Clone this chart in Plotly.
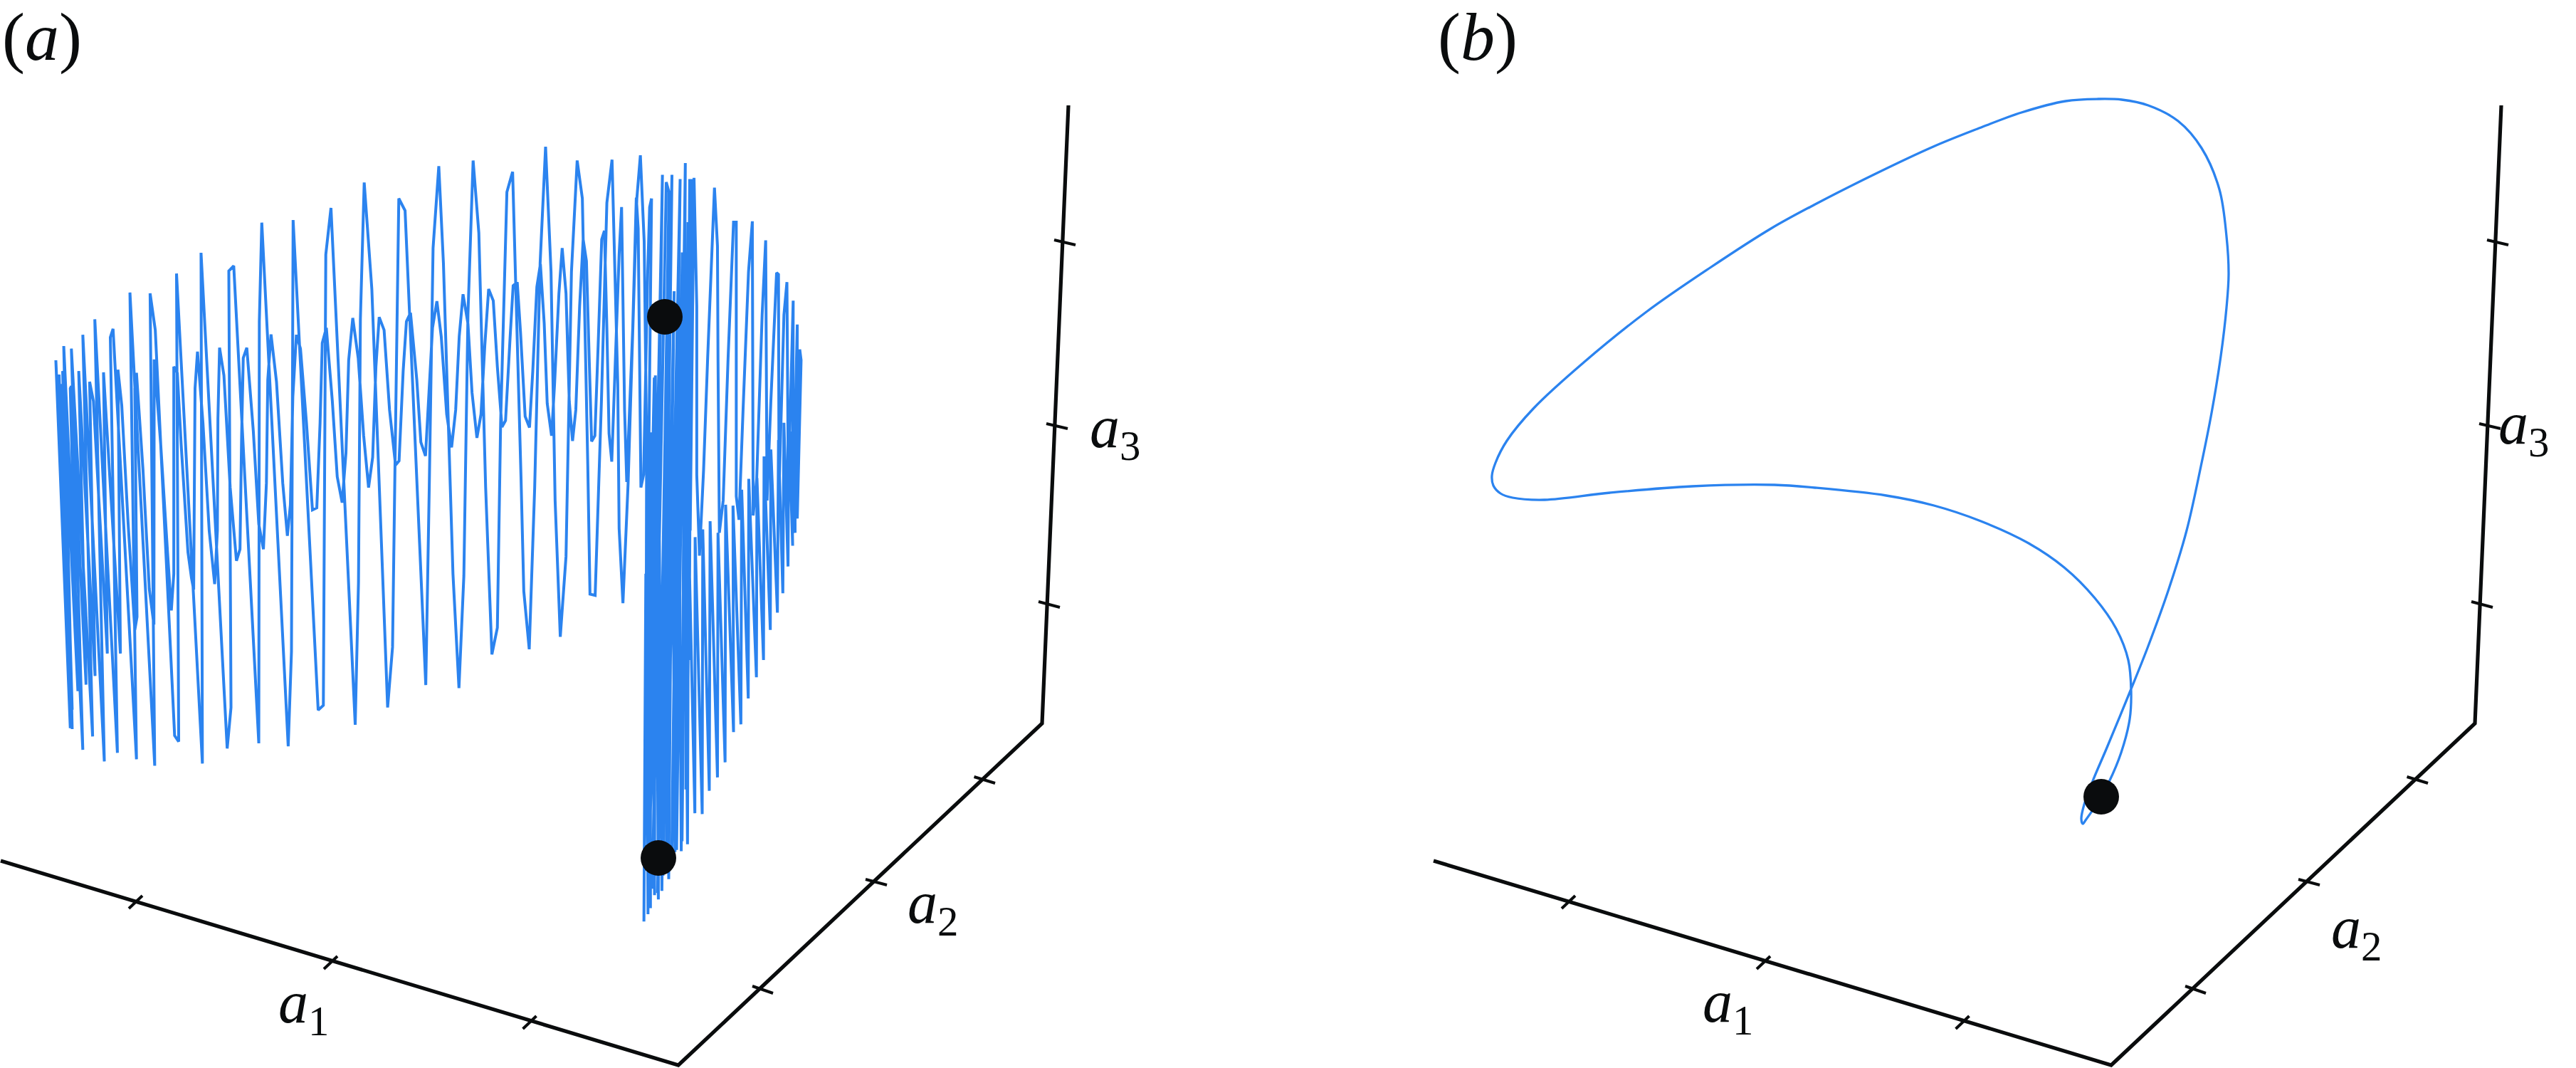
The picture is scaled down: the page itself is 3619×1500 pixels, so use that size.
import plotly.graph_objects as go

# ---------- panel (a) trajectory ----------
# small-amplitude chain, left part (u = 2.613 per px, v = 1.6505 per px from y=200)
small_l_u = [217,258,224,265,230,286,258,262,316,289,349,329,343,394,380,442,433,447,470,495,503,495,501,525,548,565,566,590,615,629,638,638,651,665,690,703,711,716,725,745,768,788,798,800,806,822,845,868,881,887,893,906,930,950,967,978,983,995,1015,1038,1055,1066,1075,1088,1103,1125,1147,1163,1175,1183,1198,1220,1238,1256,1270,1280,1295,1315,1335,1353,1368,1380,1392,1410,1430,1452,1465,1480,1492,1507,1530,1545,1562]
small_l_v = [538,1290,560,1315,530,1272,570,565,1257,530,1237,555,600,1185,533,1185,527,610,880,1130,1100,570,534,760,1035,1118,503,700,950,1085,1000,520,535,700,950,1010,1037,570,485,650,900,1024,900,640,476,540,800,970,943,680,500,476,670,885,943,790,550,445,555,790,912,840,590,446,478,650,852,847,650,465,430,600,775,835,720,505,407,500,680,800,730,520,405,435,620,748,738,530,415,395,550,695,727]
# small-amplitude chain, middle part (u measured from x=600)
small_m_u = [20,36,52,72,90,105,118,132,150,165,183,198,212,226,243,258,275,288,305,316,331,343,360,376,388,403,416,430,441,457,468,484,496,510,522,534,546,560,573,585,596,604,616,628,641,651,660,668,678,705,714,725,733,755,768,775,785,795,810,817,824]
small_m_v = [430,368,450,630,707,620,450,352,420,580,685,630,470,340,367,520,660,645,450,332,324,440,635,661,530,335,282,420,605,680,560,350,245,350,600,692,620,380,225,275,520,693,680,470,225,205,430,675,740,260,150,620,787,430,128,200,800,770,300,150,130]
# left-end strokes joining the two chains
turn_u = [258,205]
turn_v = [1358,505]
# large-amplitude chain, left part
large_l_u = [265,234,304,262,340,304,383,348,431,405,415,501,477,568,551,570,641,656,648,743,738,834,848,840,858,950,952,961,1058,1070,1076,1168,1187,1196,1215,1304,1316,1323,1337,1365,1423,1441,1450,1464,1487,1563]
large_l_v = [1360,472,1408,478,1377,446,1435,410,1415,452,432,1430,348,1445,350,435,1375,1389,304,1440,256,1405,1310,298,286,1393,415,186,1400,1180,180,1316,1305,260,152,1350,1020,410,93,340,1310,1170,750,130,158,1258]
# large-amplitude chain, middle part
large_m_u = [8,22,43,60,95,117,135,150,169,190,215,238,258,270,293,314,345,355,375,395,415,435,455,470,489,510,530,551,570,590,598,617,640,660,679,700,705,719,738,770,783,797]
large_m_v = [800,245,55,280,1000,1265,1005,400,42,210,800,1187,1125,650,115,68,780,1040,1175,800,280,10,300,830,1146,960,300,42,130,750,1047,1050,600,140,40,560,895,1068,790,130,30,230]
# dense band, first pass
band1_u = [806,803,834,815,864,828,878,888,846,899,866,907,878,929,898,937,916,948,936,958,950,964,962,972,966,980]
band1_v = [700,1500,545,1720,75,1730,92,115,1740,75,1700,345,1680,85,1660,255,1640,48,1620,185,1500,85,1200,85,900,82]
# right lobe, outward
out_u = [990,990,1000,1015,1030,1055,1066,1068,1073,1087,1105,1125,1135,1135,1145,1160,1180,1194,1197,1210,1230,1243,1248,1262,1283,1290,1292,1310,1321,1325,1322,1344,1342,1359,1358,1368,1373]
out_v = [380,770,958,760,500,105,240,500,905,830,500,185,185,820,875,620,300,183,865,780,400,227,830,600,302,306,812,400,324,700,900,367,906,422,872,480,505]
# right lobe, returning
back_u = [1359,1350,1351,1335,1342,1328,1325,1310,1306,1290,1286,1262,1260,1237,1235,1211,1209,1181,1179,1155,1152,1123,1125,1096,1094,1068,1066,1039,1036,1012,1010,984,983]
back_v = [872,690,905,670,935,650,983,650,1045,690,1090,712,1130,728,1200,778,1240,780,1289,805,1349,842,1367,840,1437,905,1472,878,1503,897,1557,915,1555]
# dense band, second pass
band2_u = [960,956,945,933,925,910,900,887,880,862,850,849,838,835,820,820,808,811,803,796,797]
band2_v = [900,1627,800,1643,700,1645,680,1708,680,1735,680,1755,540,1745,672,1775,668,1789,1000,1806,1700]

dots_a_x = [934, 925]
dots_a_y = [445, 1205]

# ---------- panel (b) trajectory ----------
traj_b_x = [2926,2924,2928,2940,2960,2993,3017,3047,3072,3092,3107,3120,3128,3131,3128,3118,3093,3060,3018,2981,2948,2902,2840,2778,2716,2633,2550,2488,2401,2313,2225,2155,2117,2101,2096,2098,2108,2125,2170,2262,2377,2493,2550,2650,2717,2783,2850,2900,2943,2973,2990,2994,2992,2980,2963,2945,2930,2926]
traj_b_y = [1157,1150,1130,1097,1050,970,910,827,745,655,580,500,432,385,332,266,208,170,148,140,139,142,158,181,206,245,287,321,377,438,509,573,619,650,668,682,693,699,702,692,683,681,685,696,710,732,763,797,840,883,927,970,1010,1057,1098,1130,1152,1157]
dots_b_x = [2952]
dots_b_y = [1119]

# ---------- axes frame ----------
frame_a_x = [1, 953, 1464, 1501]
frame_a_y = [1209, 1496, 1016, 148]
frame_b_x = [2014, 2966, 3477, 3514]
frame_b_y = [1209, 1496, 1016, 148]
ticks_a_x = [200,181,None,474,455,None,753.5,734.6,None,1057,1086,None,1216,1246,None,1368.5,1398,None,1459,1489,None,1470,1500,None,1481,1511]
ticks_a_y = [1258,1276,None,1343,1361,None,1427,1445,None,1385,1395,None,1235,1243,None,1091,1100,None,845,853,None,595,602,None,337,344]
ticks_b_x = [2213,2194,None,2487,2468,None,2766.5,2747.6,None,3070,3099,None,3229,3259,None,3381.5,3411,None,3472,3502,None,3483,3513,None,3494,3524]
ticks_b_y = ticks_a_y

label_texts = ["(<i>a</i>)", "(<i>b</i>)",
               "<i>a</i><sub>1</sub>", "<i>a</i><sub>2</sub>", "<i>a</i><sub>3</sub>",
               "<i>a</i><sub>1</sub>", "<i>a</i><sub>2</sub>", "<i>a</i><sub>3</sub>"]
label_x = [3, 2020, 391, 1275, 1531, 2392, 3275, 3510]
label_y = [105, 105, 1467, 1327, 659, 1466, 1362, 654]
label_size = [96, 96, 84, 84, 84, 84, 84, 84]

BLUE = "#2b83ef"
INK = "#0a0c0d"

def from_left(u, v):
    return [p / 2.613 for p in u], [200 + q / 1.6505 for q in v]

def from_mid(u, v):
    return [600 + p / 2.613 for p in u], [200 + q / 1.6505 for q in v]

sl = from_left(small_l_u, small_l_v)
sm = from_mid(small_m_u, small_m_v)
small_x = sl[0] + sm[0]
small_y = sl[1] + sm[1]
tu = from_left(turn_u, turn_v)
ll = from_left(large_l_u, large_l_v)
lm = from_mid(large_m_u + band1_u + out_u + back_u + band2_u,
              large_m_v + band1_v + out_v + back_v + band2_v)

traj_a_x = small_x[::-1] + tu[0] + ll[0] + lm[0] + [small_x[-1]]
traj_a_y = small_y[::-1] + tu[1] + ll[1] + lm[1] + [small_y[-1]]

fig = go.Figure()
for fx, fy in ((frame_a_x, frame_a_y), (frame_b_x, frame_b_y)):
    fig.add_trace(go.Scatter(x=fx, y=fy, mode="lines", line=dict(color=INK, width=5.2), hoverinfo="skip"))
for tx, ty in ((ticks_a_x, ticks_a_y), (ticks_b_x, ticks_b_y)):
    fig.add_trace(go.Scatter(x=tx, y=ty, mode="lines", line=dict(color=INK, width=4), connectgaps=False, hoverinfo="skip"))
fig.add_trace(go.Scatter(x=traj_a_x, y=traj_a_y, mode="lines", line=dict(color=BLUE, width=4, simplify=False), hoverinfo="skip"))
fig.add_trace(go.Scatter(x=traj_b_x, y=traj_b_y, mode="lines", line=dict(color=BLUE, width=3.3, shape="spline", smoothing=1.0), hoverinfo="skip"))
for dx, dy in ((dots_a_x, dots_a_y), (dots_b_x, dots_b_y)):
    fig.add_trace(go.Scatter(x=dx, y=dy, mode="markers", marker=dict(color=INK, size=50, line=dict(width=0)), hoverinfo="skip"))

for t, x, y, s in zip(label_texts, label_x, label_y, label_size):
    fig.add_annotation(x=x, y=y, text=t, showarrow=False, xanchor="left", yanchor="bottom",
                       xref="x", yref="y", borderpad=0, borderwidth=0,
                       font=dict(family="Liberation Serif", size=s, color=INK))

fig.update_layout(width=3619, height=1500, margin=dict(l=0, r=0, t=0, b=0),
                  paper_bgcolor="white", plot_bgcolor="white", showlegend=False,
                  xaxis=dict(range=[0, 3619], visible=False, fixedrange=True),
                  yaxis=dict(range=[1500, 0], visible=False, fixedrange=True))
fig.write_html("out.html", config={"displayModeBar": False},
               post_script="document.body.style.margin='0';")
